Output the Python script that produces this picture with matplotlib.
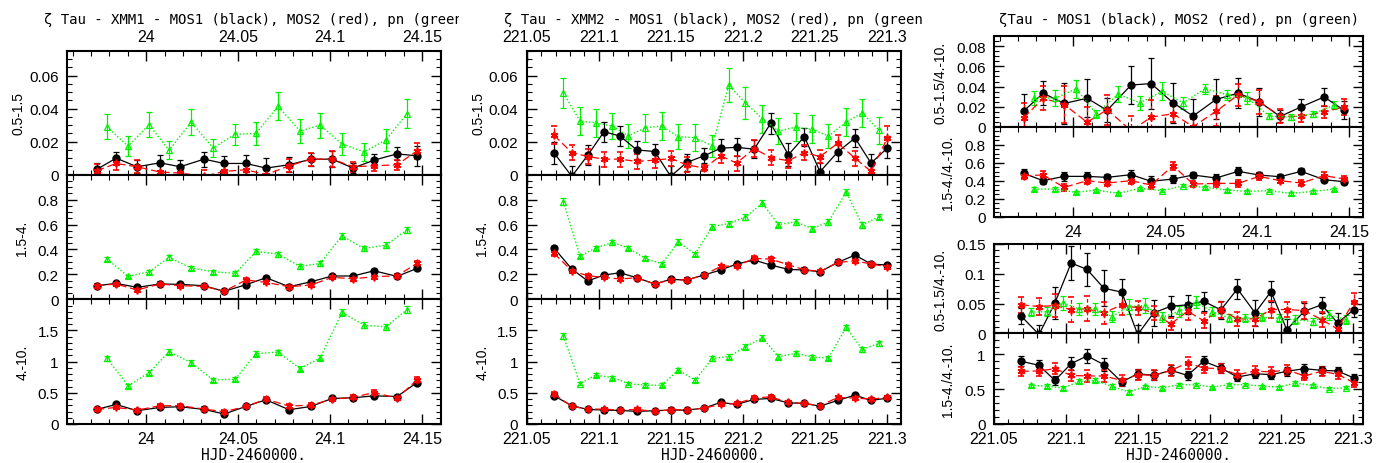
import matplotlib
matplotlib.use("Agg")
import matplotlib.pyplot as plt
from matplotlib.ticker import MultipleLocator, FuncFormatter
from matplotlib.transforms import Bbox, TransformedBbox

# ---------------- data ----------------
# XMM1 observation times (HJD-2460000.)
t1_mos = [23.9732, 23.9837, 23.9951, 24.0076, 24.0185, 24.0315, 24.0424, 24.0543,
          24.0652, 24.0777, 24.0897, 24.1011, 24.1125, 24.1239, 24.1364, 24.1473]
t1_pn = [23.9788, 23.9902, 24.0016, 24.0125, 24.0245, 24.0364, 24.0484, 24.0598,
         24.0717, 24.0837, 24.0946, 24.1065, 24.1185, 24.1304, 24.1418]
# XMM2 observation times
t2_mos = [221.0690, 221.0813, 221.0924, 221.1037, 221.1148, 221.1264, 221.1389,
          221.1500, 221.1611, 221.1731, 221.1847, 221.1958, 221.2079, 221.2194,
          221.2317, 221.2428, 221.2537, 221.2660, 221.2780, 221.2891, 221.3005]
t2_pn = [221.0755, 221.0870, 221.0979, 221.1095, 221.1206, 221.1322, 221.1438,
         221.1553, 221.1669, 221.1789, 221.1903, 221.2019, 221.2137, 221.2248,
         221.2368, 221.2484, 221.2595, 221.2718, 221.2831, 221.2947]

# XMM1, 0.5-1.5
x1_s_m1 = [0.0032, 0.0100, 0.0048, 0.0072, 0.0048, 0.0094, 0.0068, 0.0068,
           0.0040, 0.0060, 0.0094, 0.0094, 0.0040, 0.0088, 0.0126, 0.0114]
x1_s_m1e = [0.004, 0.0035, 0.004, 0.005, 0.004, 0.0045, 0.0045, 0.005,
            0.006, 0.0045, 0.004, 0.005, 0.003, 0.0035, 0.004, 0.006]
x1_s_m2 = [0.0024, 0.0068, 0.0048, 0.0016, 0.0010, -0.0010, 0.0020, 0.0030,
           0.0000, 0.0054, 0.0094, 0.0094, 0.0048, 0.0054, 0.0060, 0.0144]
x1_s_m2e = [0.004, 0.004, 0.004, 0.004, 0.004, 0.004, 0.004, 0.004,
            0.004, 0.004, 0.004, 0.005, 0.003, 0.003, 0.003, 0.005]
x1_s_pn = [0.0290, 0.0172, 0.0302, 0.0148, 0.0318, 0.0162, 0.0244, 0.0250,
           0.0414, 0.0264, 0.0300, 0.0186, 0.0138, 0.0210, 0.0370]
x1_s_pne = [0.0075, 0.006, 0.0075, 0.0055, 0.008, 0.0055, 0.0065, 0.007,
            0.0085, 0.007, 0.0075, 0.0065, 0.0055, 0.0065, 0.0085]
# XMM1, 1.5-4.
x1_m_m1 = [0.109, 0.128, 0.096, 0.123, 0.120, 0.109, 0.064, 0.117,
           0.173, 0.101, 0.141, 0.187, 0.187, 0.229, 0.184, 0.248]
x1_m_m1e = [0.010, 0.010, 0.010, 0.010, 0.010, 0.010, 0.009, 0.011,
            0.012, 0.010, 0.011, 0.012, 0.012, 0.013, 0.012, 0.014]
x1_m_m2 = [0.109, 0.123, 0.075, 0.123, 0.109, 0.104, 0.064, 0.155,
           0.136, 0.101, 0.115, 0.176, 0.165, 0.181, 0.189, 0.288]
x1_m_m2e = [0.012, 0.012, 0.014, 0.012, 0.012, 0.012, 0.010, 0.018,
            0.015, 0.012, 0.013, 0.015, 0.015, 0.015, 0.015, 0.020]
x1_m_pn = [0.323, 0.184, 0.221, 0.336, 0.251, 0.221, 0.208, 0.384,
           0.363, 0.264, 0.288, 0.509, 0.408, 0.435, 0.557]
x1_m_pne = [0.018, 0.015, 0.016, 0.019, 0.017, 0.016, 0.016, 0.020,
            0.020, 0.017, 0.018, 0.023, 0.020, 0.021, 0.023]
# XMM1, 4.-10.
x1_h_m1 = [0.234, 0.314, 0.213, 0.266, 0.277, 0.234, 0.160, 0.282,
           0.388, 0.229, 0.282, 0.410, 0.420, 0.452, 0.441, 0.665]
x1_h_m1e = [0.020, 0.020, 0.020, 0.020, 0.020, 0.020, 0.018, 0.020,
            0.022, 0.020, 0.020, 0.022, 0.022, 0.024, 0.024, 0.028]
x1_h_m2 = [0.234, 0.266, 0.223, 0.293, 0.293, 0.239, 0.197, 0.282,
           0.399, 0.287, 0.303, 0.399, 0.426, 0.505, 0.415, 0.707]
x1_h_m2e = [0.025, 0.028, 0.025, 0.030, 0.030, 0.026, 0.025, 0.028,
            0.032, 0.030, 0.030, 0.032, 0.032, 0.035, 0.033, 0.040]
x1_h_pn = [1.053, 0.612, 0.824, 1.160, 0.984, 0.707, 0.718, 1.128,
           1.154, 0.888, 1.059, 1.790, 1.585, 1.559, 1.835]
x1_h_pne = [0.040, 0.030, 0.035, 0.040, 0.038, 0.032, 0.032, 0.040,
            0.040, 0.035, 0.040, 0.050, 0.045, 0.045, 0.050]

# XMM2, 0.5-1.5
x2_s_m1 = [0.0132, -0.0010, 0.0118, 0.0260, 0.0234, 0.0150, 0.0140, -0.0010,
           0.0074, 0.0114, 0.0160, 0.0166, 0.0154, 0.0310, 0.0120, 0.0230,
           0.0018, 0.0138, 0.0222, 0.0070, 0.0162]
x2_s_m1e = [0.0065, 0.006, 0.006, 0.006, 0.006, 0.0055, 0.0045, 0.006,
            0.005, 0.0045, 0.0055, 0.0055, 0.0055, 0.0065, 0.007, 0.0055,
            0.005, 0.0055, 0.0055, 0.0055, 0.006]
x2_s_m2 = [0.0238, 0.0134, 0.0110, 0.0094, 0.0094, 0.0080, 0.0088, 0.0098,
           0.0060, 0.0040, 0.0114, 0.0070, 0.0158, 0.0104, 0.0084, 0.0134,
           0.0110, 0.0190, 0.0100, 0.0020, 0.0224]
x2_s_m2e = [0.0055, 0.0045, 0.0045, 0.0045, 0.0045, 0.0045, 0.0045, 0.0045,
            0.0045, 0.002, 0.0045, 0.0045, 0.005, 0.0045, 0.0045, 0.0045,
            0.004, 0.005, 0.0045, 0.004, 0.007]
x2_s_pn = [0.0494, 0.0324, 0.0314, 0.0294, 0.0234, 0.0284, 0.0294, 0.0230,
           0.0224, 0.0174, 0.0542, 0.0434, 0.0338, 0.0264, 0.0288, 0.0274,
           0.0234, 0.0318, 0.0374, 0.0268]
x2_s_pne = [0.009, 0.0085, 0.0085, 0.008, 0.0075, 0.0085, 0.0085, 0.0075,
            0.008, 0.0065, 0.0105, 0.0095, 0.0085, 0.008, 0.0085, 0.0085,
            0.0075, 0.0085, 0.0085, 0.008]
# XMM2, 1.5-4.
x2_m_m1 = [0.411, 0.243, 0.147, 0.195, 0.213, 0.173, 0.123, 0.160, 0.155,
           0.195, 0.235, 0.283, 0.315, 0.275, 0.240, 0.235, 0.221, 0.296,
           0.355, 0.283, 0.275]
x2_m_m1e = [0.014, 0.011, 0.009, 0.010, 0.010, 0.010, 0.009, 0.010, 0.010,
            0.010, 0.011, 0.012, 0.012, 0.012, 0.011, 0.011, 0.011, 0.012,
            0.013, 0.012, 0.012]
x2_m_m2 = [0.368, 0.229, 0.189, 0.176, 0.163, 0.173, 0.123, 0.157, 0.155,
           0.195, 0.264, 0.269, 0.328, 0.323, 0.277, 0.237, 0.224, 0.296,
           0.309, 0.283, 0.261]
x2_m_m2e = [0.018, 0.014, 0.014, 0.013, 0.013, 0.013, 0.011, 0.012, 0.012,
            0.013, 0.015, 0.015, 0.017, 0.017, 0.015, 0.014, 0.014, 0.016,
            0.016, 0.015, 0.015]
x2_m_pn = [0.784, 0.347, 0.411, 0.456, 0.413, 0.328, 0.285, 0.461, 0.363,
           0.584, 0.608, 0.661, 0.771, 0.600, 0.621, 0.568, 0.621, 0.861,
           0.595, 0.664]
x2_m_pne = [0.025, 0.016, 0.018, 0.019, 0.018, 0.016, 0.015, 0.019, 0.017,
            0.022, 0.022, 0.023, 0.025, 0.022, 0.022, 0.021, 0.022, 0.026,
            0.022, 0.023]
# XMM2, 4.-10.
x2_h_m1 = [0.452, 0.293, 0.234, 0.223, 0.218, 0.202, 0.213, 0.223, 0.223,
           0.255, 0.346, 0.314, 0.394, 0.410, 0.340, 0.330, 0.287, 0.378,
           0.463, 0.378, 0.415]
x2_h_m1e = [0.022, 0.018, 0.016, 0.016, 0.016, 0.016, 0.016, 0.016, 0.016,
            0.017, 0.019, 0.018, 0.020, 0.020, 0.019, 0.018, 0.018, 0.019,
            0.021, 0.019, 0.020]
x2_h_m2 = [0.479, 0.282, 0.239, 0.239, 0.223, 0.234, 0.202, 0.229, 0.223,
           0.255, 0.314, 0.330, 0.415, 0.436, 0.346, 0.330, 0.293, 0.426,
           0.415, 0.399, 0.426]
x2_h_m2e = [0.030, 0.024, 0.022, 0.022, 0.021, 0.022, 0.021, 0.021, 0.021,
            0.022, 0.025, 0.025, 0.028, 0.028, 0.025, 0.025, 0.024, 0.028,
            0.027, 0.026, 0.027]
x2_h_pn = [1.410, 0.649, 0.782, 0.745, 0.649, 0.622, 0.622, 0.867, 0.702,
           1.053, 1.080, 1.239, 1.383, 1.080, 1.133, 1.074, 1.059, 1.548,
           1.197, 1.293]
x2_h_pne = [0.045, 0.030, 0.032, 0.032, 0.030, 0.030, 0.030, 0.034, 0.032,
            0.038, 0.038, 0.040, 0.042, 0.038, 0.038, 0.038, 0.038, 0.045,
            0.040, 0.042]

# XMM1 hardness ratios
r1_a_m1 = [0.0157, 0.0334, 0.0231, 0.0283, 0.0163, 0.0415, 0.0429, 0.0238,
           0.0106, 0.0272, 0.0334, 0.0249, 0.0102, 0.0197, 0.0296, 0.0163]
r1_a_m1e = [0.017, 0.012, 0.020, 0.019, 0.012, 0.019, 0.025, 0.020,
            0.017, 0.020, 0.015, 0.014, 0.006, 0.008, 0.009, 0.009]
r1_a_m2 = [0.0089, 0.0283, 0.0221, 0.0044, 0.0170, -0.0040, 0.0095, 0.0129,
           0.0000, 0.0153, 0.0317, 0.0249, 0.0106, 0.0102, 0.0146, 0.0197]
r1_a_m2e = [0.015, 0.012, 0.018, 0.015, 0.015, 0.015, 0.017, 0.008,
            0.008, 0.015, 0.011, 0.012, 0.007, 0.006, 0.006, 0.008]
r1_a_pn = [0.0289, 0.0283, 0.0378, 0.0129, 0.0323, 0.0238, 0.0351, 0.0238,
           0.0378, 0.0317, 0.0289, 0.0106, 0.0095, 0.0129, 0.0214]
r1_a_pne = [0.007, 0.008, 0.009, 0.004, 0.008, 0.007, 0.009, 0.006,
            0.005, 0.005, 0.006, 0.003, 0.003, 0.003, 0.004]
r1_b_m1 = [0.481, 0.400, 0.448, 0.448, 0.437, 0.467, 0.393, 0.419,
           0.463, 0.430, 0.504, 0.463, 0.444, 0.504, 0.411, 0.389]
r1_b_m1e = [0.050, 0.035, 0.050, 0.045, 0.040, 0.050, 0.060, 0.040,
            0.035, 0.045, 0.045, 0.035, 0.030, 0.035, 0.030, 0.030]
r1_b_m2 = [0.456, 0.463, 0.326, 0.400, 0.374, 0.400, 0.352, 0.567,
           0.363, 0.370, 0.370, 0.448, 0.400, 0.374, 0.456, 0.419]
r1_b_m2e = [0.040, 0.050, 0.040, 0.040, 0.035, 0.040, 0.040, 0.045,
            0.035, 0.035, 0.035, 0.035, 0.030, 0.030, 0.040, 0.035]
r1_b_pn = [0.307, 0.307, 0.270, 0.296, 0.259, 0.315, 0.289, 0.344,
           0.326, 0.296, 0.281, 0.289, 0.259, 0.281, 0.307]
r1_b_pne = [0.018, 0.018, 0.016, 0.016, 0.014, 0.018, 0.016, 0.018,
            0.017, 0.016, 0.015, 0.015, 0.014, 0.015, 0.016]

# XMM2 hardness ratios
r2_a_m1 = [0.0287, -0.0020, 0.0511, 0.1180, 0.1073, 0.0758, 0.0691, -0.0020,
           0.0343, 0.0455, 0.0478, 0.0539, 0.0393, 0.0747, 0.0343, 0.0702,
           0.0062, 0.0371, 0.0478, 0.0174, 0.0399]
r2_a_m1e = [0.013, 0.016, 0.027, 0.029, 0.028, 0.030, 0.022, 0.016,
            0.022, 0.017, 0.016, 0.016, 0.015, 0.017, 0.022, 0.017,
            0.018, 0.013, 0.013, 0.016, 0.013]
r2_a_m2 = [0.0478, 0.0450, 0.0466, 0.0399, 0.0410, 0.0343, 0.0478, 0.0427,
           0.0343, 0.0157, 0.0371, 0.0213, 0.0393, 0.0242, 0.0242, 0.0399,
           0.0399, 0.0382, 0.0230, 0.0073, 0.0534]
r2_a_m2e = [0.014, 0.015, 0.020, 0.021, 0.021, 0.018, 0.017, 0.012,
            0.012, 0.010, 0.014, 0.012, 0.014, 0.012, 0.012, 0.014,
            0.013, 0.015, 0.012, 0.012, 0.015]
r2_a_pn = [0.0354, 0.0365, 0.0511, 0.0410, 0.0410, 0.0281, 0.0450, 0.0466,
           0.0270, 0.0371, 0.0522, 0.0365, 0.0253, 0.0253, 0.0270, 0.0253,
           0.0230, 0.0197, 0.0309, 0.0230]
r2_a_pne = [0.007, 0.008, 0.012, 0.010, 0.010, 0.009, 0.013, 0.012,
            0.008, 0.009, 0.010, 0.008, 0.007, 0.007, 0.007, 0.007,
            0.007, 0.006, 0.008, 0.007]
r2_b_m1 = [0.899, 0.841, 0.625, 0.865, 0.976, 0.851, 0.601, 0.721, 0.697,
           0.769, 0.697, 0.899, 0.803, 0.673, 0.721, 0.707, 0.755, 0.793,
           0.769, 0.760, 0.659]
r2_b_m1e = [0.070, 0.080, 0.070, 0.090, 0.100, 0.090, 0.060, 0.070, 0.070,
            0.070, 0.060, 0.080, 0.070, 0.060, 0.060, 0.060, 0.060, 0.060,
            0.060, 0.060, 0.060]
r2_b_m2 = [0.755, 0.760, 0.793, 0.697, 0.688, 0.688, 0.625, 0.707, 0.697,
           0.769, 0.875, 0.803, 0.793, 0.707, 0.760, 0.745, 0.779, 0.688,
           0.755, 0.712, 0.591]
r2_b_m2e = [0.060, 0.070, 0.080, 0.080, 0.080, 0.080, 0.080, 0.070, 0.070,
            0.080, 0.080, 0.070, 0.060, 0.060, 0.070, 0.070, 0.070, 0.060,
            0.060, 0.060, 0.060]
r2_b_pn = [0.553, 0.543, 0.514, 0.611, 0.625, 0.538, 0.457, 0.538, 0.519,
           0.563, 0.563, 0.529, 0.563, 0.563, 0.543, 0.529, 0.587, 0.553,
           0.505, 0.519]
r2_b_pne = [0.025, 0.030, 0.025, 0.030, 0.030, 0.030, 0.025, 0.025, 0.025,
            0.025, 0.025, 0.022, 0.022, 0.022, 0.022, 0.022, 0.025, 0.022,
            0.022, 0.022]

title_left = "\u03b6 Tau - XMM1 - MOS1 (black), MOS2 (red), pn (green)"
title_mid = "\u03b6 Tau - XMM2 - MOS1 (black), MOS2 (red), pn (green)"
title_right = "\u03b6Tau - MOS1 (black), MOS2 (red), pn (green)"
xlab = "HJD-2460000."

# ---------------- style ----------------
BLACK = "#000000"
RED = "#ff0000"
GREEN = "#00f000"
TICKFONT = "Liberation Sans"
MONO = "DejaVu Sans Mono"

W, H = 1383, 464
fig = plt.figure(figsize=(W / 100, H / 100), dpi=100)


def px_axes(x0, x1, ytop, ybot):
    return fig.add_axes([x0 / W, 1 - ybot / H, (x1 - x0) / W, (ybot - ytop) / H])


fmt = FuncFormatter(lambda v, p: f"{round(v, 6):.6g}")


def style(ax, xlim, ylim, yticks, yminor, ylabel, ylab_x, bottom_labels=False,
          top_labels=False, ysize=11):
    ax.set_xlim(*xlim)
    ax.set_ylim(*ylim)
    ax.xaxis.set_major_locator(MultipleLocator(0.05))
    ax.xaxis.set_minor_locator(MultipleLocator(0.01))
    ax.set_yticks(yticks)
    ax.yaxis.set_minor_locator(MultipleLocator(yminor))
    ax.xaxis.set_major_formatter(fmt)
    ax.yaxis.set_major_formatter(fmt)
    ax.tick_params(which="both", direction="in", top=True, right=True,
                   labelbottom=bottom_labels, labeltop=top_labels)
    ax.tick_params(which="major", length=7, width=1.0)
    ax.tick_params(which="minor", length=3.5, width=0.8)
    ax.tick_params(axis="y", labelsize=ysize, pad=6)
    ax.tick_params(axis="x", labelsize=11.5, pad=5)
    for lab in ax.get_xticklabels() + ax.get_yticklabels():
        lab.set_fontfamily(TICKFONT)
    for s in ax.spines.values():
        s.set_linewidth(1.5)
    ax.set_ylabel(ylabel, fontfamily=TICKFONT, fontsize=10)
    ax.yaxis.set_label_coords(ylab_x, 0.5)


def draw(ax, tm, m1, m1e, m2, m2e, tp, pn, pne):
    ax.errorbar(tm, m1, yerr=m1e, color=BLACK, ls="-", lw=0.9, marker="o",
                ms=5, mec=BLACK, mfc=BLACK, capsize=2.5, elinewidth=0.9,
                capthick=0.9)
    eb = ax.errorbar(tm, m2, yerr=m2e, color=RED, ls=(0, (6, 3)), lw=0.9,
                     marker=(6, 2, 0), ms=5.5, mew=1.2, mec=RED, capsize=2.5,
                     elinewidth=0.9, capthick=0.9)
    for c in eb[2]:
        c.set_linestyle((0, (3, 2)))
    ax.errorbar(tp, pn, yerr=pne, color=GREEN, ls=(0, (1, 1.5)), lw=1.0,
                marker="^", ms=4.5, mfc="none", mec=GREEN, mew=0.9,
                capsize=2.5, elinewidth=0.9, capthick=0.9)


# ---------------- left column (XMM1) ----------------
xl1 = (23.957, 24.1603)
a = px_axes(67, 441, 51.7, 175.7)
draw(a, t1_mos, x1_s_m1, x1_s_m1e, x1_s_m2, x1_s_m2e, t1_pn, x1_s_pn, x1_s_pne)
style(a, xl1, (0, 0.075), [0, 0.02, 0.04, 0.06], 0.005, "0.5-1.5", -0.112,
      top_labels=True)
a = px_axes(67, 441, 175.7, 300.3)
draw(a, t1_mos, x1_m_m1, x1_m_m1e, x1_m_m2, x1_m_m2e, t1_pn, x1_m_pn, x1_m_pne)
style(a, xl1, (0, 1.0), [0, 0.2, 0.4, 0.6, 0.8], 0.05, "1.5-4.", -0.102)
a = px_axes(67, 441, 300.3, 425)
draw(a, t1_mos, x1_h_m1, x1_h_m1e, x1_h_m2, x1_h_m2e, t1_pn, x1_h_pn, x1_h_pne)
style(a, xl1, (0, 2.0), [0, 0.5, 1, 1.5], 0.1, "4.-10.", -0.099,
      bottom_labels=True)
a.set_xlabel(xlab, fontfamily=MONO, fontsize=10.5, labelpad=1)

# ---------------- middle column (XMM2) ----------------
xl2 = (221.05, 221.3097)
a = px_axes(526.7, 900.7, 51.7, 175.7)
draw(a, t2_mos, x2_s_m1, x2_s_m1e, x2_s_m2, x2_s_m2e, t2_pn, x2_s_pn, x2_s_pne)
style(a, xl2, (0, 0.075), [0, 0.02, 0.04, 0.06], 0.005, "0.5-1.5", -0.111,
      top_labels=True)
a = px_axes(526.7, 900.7, 175.7, 300.3)
draw(a, t2_mos, x2_m_m1, x2_m_m1e, x2_m_m2, x2_m_m2e, t2_pn, x2_m_pn, x2_m_pne)
style(a, xl2, (0, 1.0), [0, 0.2, 0.4, 0.6, 0.8], 0.05, "1.5-4.", -0.101)
a = px_axes(526.7, 900.7, 300.3, 425)
draw(a, t2_mos, x2_h_m1, x2_h_m1e, x2_h_m2, x2_h_m2e, t2_pn, x2_h_pn, x2_h_pne)
style(a, xl2, (0, 2.0), [0, 0.5, 1, 1.5], 0.1, "4.-10.", -0.098,
      bottom_labels=True)
a.set_xlabel(xlab, fontfamily=MONO, fontsize=10.5, labelpad=1)

# ---------------- right column (ratios) ----------------
xr1 = (23.957, 24.1577)
xr2 = (221.05, 221.307)
a = px_axes(994, 1363.3, 37.3, 127.7)
draw(a, t1_mos, r1_a_m1, r1_a_m1e, r1_a_m2, r1_a_m2e, t1_pn, r1_a_pn, r1_a_pne)
style(a, xr1, (0, 0.09), [0, 0.02, 0.04, 0.06, 0.08], 0.005,
      "0.5-1.5/4.-10.", -0.127)
a = px_axes(994, 1363.3, 127.7, 217.7)
draw(a, t1_mos, r1_b_m1, r1_b_m1e, r1_b_m2, r1_b_m2e, t1_pn, r1_b_pn, r1_b_pne)
style(a, xr1, (0, 1.0), [0, 0.2, 0.4, 0.6, 0.8], 0.05, "1.5-4./4.-10.", -0.106,
      bottom_labels=True)
a = px_axes(994, 1363.3, 245, 334.3)
draw(a, t2_mos, r2_a_m1, r2_a_m1e, r2_a_m2, r2_a_m2e, t2_pn, r2_a_pn, r2_a_pne)
style(a, xr2, (0, 0.15), [0, 0.05, 0.1, 0.15], 0.01, "0.5-1.5/4.-10.", -0.127)
a = px_axes(994, 1363.3, 334.3, 425)
draw(a, t2_mos, r2_b_m1, r2_b_m1e, r2_b_m2, r2_b_m2e, t2_pn, r2_b_pn, r2_b_pne)
style(a, xr2, (0, 1.3), [0, 0.5, 1], 0.1, "1.5-4./4.-10.", -0.106,
      bottom_labels=True)
a.set_xlabel(xlab, fontfamily=MONO, fontsize=10.5, labelpad=1)

# ---------------- titles (clipped at column boundaries) ----------------
def clipped_title(text, xc, xclip0, xclip1):
    t = fig.text(xc / W, 1 - 20 / H, text, ha="center", va="center",
                 fontfamily=MONO, fontsize=10.1)
    t.set_clip_box(TransformedBbox(Bbox([[xclip0 / W, 0], [xclip1 / W, 1]]),
                                   fig.transFigure))
    t.set_clip_on(True)


clipped_title(title_left, 258, 0, 459)
clipped_title(title_mid, 718, 462, 922)
clipped_title(title_right, 1179, 925, W)

fig.savefig("out.png", dpi=100)
